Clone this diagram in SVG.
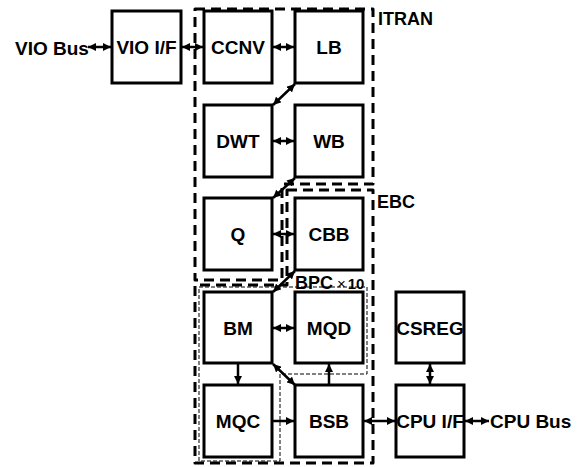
<svg xmlns="http://www.w3.org/2000/svg" width="585" height="467" viewBox="0 0 585 467">
<style>
.box{fill:#fff;stroke:#000;stroke-width:3}
.lbl{font-family:"Liberation Sans",Arial,sans-serif;font-weight:bold;font-size:19px;text-anchor:middle;fill:#000}
.grp{font-family:"Liberation Sans",Arial,sans-serif;font-weight:bold;font-size:18px;fill:#000}
.ext{font-family:"Liberation Sans",Arial,sans-serif;font-weight:bold;font-size:19px;fill:#000}
.thick{fill:none;stroke:#000;stroke-width:3;stroke-dasharray:10,6;stroke-linejoin:round}
.thin{fill:none;stroke:#000;stroke-width:1;stroke-dasharray:4,2}
.c{stroke:#000;stroke-width:2.5;fill:none}
.d{marker-start:url(#ah);marker-end:url(#ah)}
.s{marker-end:url(#ah)}
</style>
<defs>
<marker id="ah" viewBox="0 0 10 10" refX="10" refY="5" markerUnits="userSpaceOnUse" markerWidth="8" markerHeight="8" orient="auto-start-reverse">
<path d="M0,0 L10,5 L0,10 z" fill="#000"/>
</marker>
</defs>
<rect width="585" height="467" fill="#fff"/>

<g id="ITRAN">
<path class="thick" d="M195,9 H373 V184 H282 V280 H195 Z"/>
<text class="grp" x="378" y="25">ITRAN</text>
</g>
<g id="EBC">
<path class="thick" d="M287,190 H373 V463 H195 V285 H287 Z"/>
<text class="grp" x="377" y="208">EBC</text>
</g>
<g id="BPC">
<path class="thin" d="M199,287 H367 V374 H280 V461 H199 Z"/>
<text class="grp" x="295" y="289">BPC<tspan font-size="15" font-weight="normal" dx="4">×</tspan><tspan font-size="15" dx="2">10</tspan></text>
</g>

<g id="VIOIF"><rect class="box" x="112" y="11" width="69" height="72"/><text class="lbl" x="146.5" y="54">VIO I/F</text></g>
<g id="CCNV"><rect class="box" x="204" y="11" width="68" height="72"/><text class="lbl" x="238" y="54">CCNV</text></g>
<g id="LB"><rect class="box" x="295" y="11" width="68" height="72"/><text class="lbl" x="329" y="54">LB</text></g>
<g id="DWT"><rect class="box" x="204" y="105" width="68" height="72"/><text class="lbl" x="238" y="148">DWT</text></g>
<g id="WB"><rect class="box" x="295" y="105" width="68" height="72"/><text class="lbl" x="329" y="148">WB</text></g>
<g id="Q"><rect class="box" x="204" y="198" width="68" height="72"/><text class="lbl" x="238" y="241">Q</text></g>
<g id="CBB"><rect class="box" x="295" y="198" width="68" height="72"/><text class="lbl" x="329" y="241">CBB</text></g>
<g id="BM"><rect class="box" x="204" y="292" width="68" height="71"/><text class="lbl" x="238" y="334.5">BM</text></g>
<g id="MQD"><rect class="box" x="295" y="292" width="68" height="71"/><text class="lbl" x="329" y="334.5">MQD</text></g>
<g id="MQC"><rect class="box" x="204" y="385" width="68" height="72"/><text class="lbl" x="238" y="428">MQC</text></g>
<g id="BSB"><rect class="box" x="295" y="385" width="68" height="72"/><text class="lbl" x="329" y="428">BSB</text></g>
<g id="CSREG"><rect class="box" x="396" y="292" width="68" height="71"/><text class="lbl" x="430" y="334.5">CSREG</text></g>
<g id="CPUIF"><rect class="box" x="396" y="385" width="68" height="72"/><text class="lbl" x="430" y="428">CPU I/F</text></g>

<g id="VIOBus"><text class="ext" x="15" y="54.5">VIO Bus</text></g>
<g id="CPUBus"><text class="ext" x="490" y="428">CPU Bus</text></g>

<g id="connectors">
<line class="c d" x1="88" y1="47" x2="111" y2="47"/>
<line class="c d" x1="182" y1="47" x2="203" y2="47"/>
<line class="c d" x1="273" y1="47" x2="294" y2="47"/>
<line class="c d" x1="295" y1="84" x2="273" y2="105"/>
<line class="c d" x1="273" y1="141" x2="294" y2="141"/>
<line class="c d" x1="295" y1="178" x2="273" y2="198"/>
<line class="c d" x1="273" y1="234" x2="294" y2="234"/>
<line class="c d" x1="295" y1="271" x2="273" y2="292"/>
<line class="c d" x1="273" y1="328" x2="294" y2="328"/>
<line class="c s" x1="238" y1="364" x2="238" y2="384"/>
<line class="c d" x1="273" y1="364" x2="295" y2="385"/>
<line class="c s" x1="329" y1="384" x2="329" y2="364"/>
<line class="c s" x1="273" y1="421" x2="294" y2="421"/>
<line class="c d" x1="364" y1="421" x2="395" y2="421"/>
<line class="c d" x1="430" y1="364" x2="430" y2="384"/>
<line class="c d" x1="465" y1="421" x2="489" y2="421"/>
</g>
</svg>
